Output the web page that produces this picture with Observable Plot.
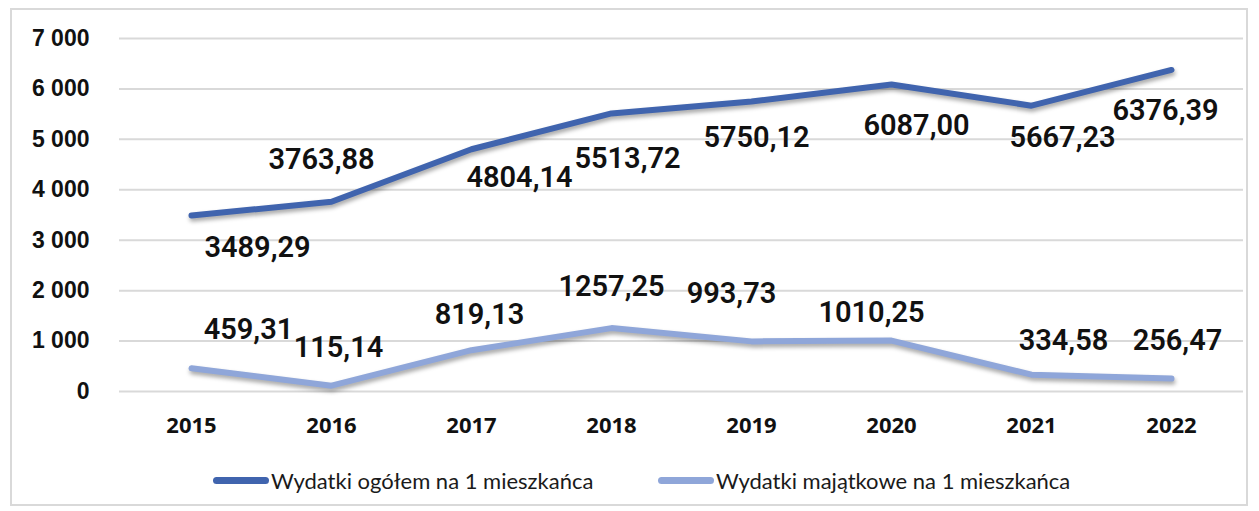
<!DOCTYPE html>
<html><head><meta charset="utf-8">
<script src="https://cdn.jsdelivr.net/npm/d3@7"></script>
<script src="https://cdn.jsdelivr.net/npm/@observablehq/plot@0.6"></script>
<style>
body{margin:0;background:#fff;width:1259px;height:511px;position:relative;overflow:hidden;}
#frame{position:absolute;left:10px;top:8px;width:1238px;height:498px;border:2px solid #d9d9d9;box-sizing:border-box;pointer-events:none;}
#chart{position:absolute;left:0;top:0;}
#legend{position:absolute;left:0;top:467px;width:1259px;font-family:Lato,"Open Sans",sans-serif;font-size:22px;color:#1a1a1a;}
.item{position:absolute;display:flex;align-items:center;}
.sw{width:56px;height:7px;border-radius:4px;margin-right:2px;}
svg g[aria-label="line"] path{filter:drop-shadow(1px 3px 2px rgba(0,0,0,0.35));}
</style></head>
<body>
<div id="chart"></div>
<div id="frame"></div>
<div id="legend"></div>
<script>
const years = [2015, 2016, 2017, 2018, 2019, 2020, 2021, 2022];
const seriesNames = ["Wydatki ogółem na 1 mieszkańca", "Wydatki majątkowe na 1 mieszkańca"];
const totalValues = [3489.29, 3763.88, 4804.14, 5513.72, 5750.12, 6087.00, 5667.23, 6376.39];
const capitalValues = [459.31, 115.14, 819.13, 1257.25, 993.73, 1010.25, 334.58, 256.47];
const yTicks = [0, 1000, 2000, 3000, 4000, 5000, 6000, 7000];
const colors = ["#4064ae", "#8fa6d9"];
// label offsets (layout only, px)
const totalLabelOffsets = [[66,32],[-10,-42],[48,28],[16,45],[5,36],[25,41],[31,32],[-6,41]];
const capitalLabelOffsets = [[57,-39],[7,-38],[8,-35],[0,-41],[-20,-48],[-20,-28],[32,-34],[6,-38]];

const rows = [];
years.forEach((y,i)=>{
  rows.push({year:String(y), value:totalValues[i], series:seriesNames[0], off:totalLabelOffsets[i]});
  rows.push({year:String(y), value:capitalValues[i], series:seriesNames[1], off:capitalLabelOffsets[i]});
});
const fmtTick = d => d3.format(",")(d).replace(/,/g, " ");
const fmtLabel = v => v.toFixed(2).replace(".", ",");

const labelMarks = rows.map(r => Plot.text([r], {
  x:"year", y:"value", text: d => fmtLabel(d.value),
  dx: r.off[0], dy: r.off[1],
  fontSize: 29, fontWeight: 600, fill: "#111",
  fontFamily: "Roboto, sans-serif"
}));

const plot = Plot.plot({
  width: 1259, height: 450,
  marginLeft: 119, marginRight: 16, marginTop: 38, marginBottom: 59,
  style: {fontFamily: "Liberation Sans, Arial, sans-serif", background: "transparent"},
  x: {type: "point", domain: years.map(String), padding: 0.5, label: null},
  y: {domain: [0, 7000], label: null},
  color: {domain: seriesNames, range: colors},
  marks: [
    Plot.gridY(yTicks, {stroke: "#d9d9d9", strokeOpacity: 1, strokeWidth: 2}),
    Plot.axisY(yTicks, {tickSize: 0, tickPadding: 30, tickFormat: fmtTick, fontSize: 23, fontWeight: "bold", fill: "#111", label: null}),
    Plot.axisX({tickSize: 0, tickPadding: 26, fontSize: 22, fontWeight: "bold", fill: "#111", label: null, fontFamily: "Open Sans, sans-serif"}),
    Plot.line(rows, {x: "year", y: "value", z: "series", stroke: "series", strokeWidth: 6, strokeLinecap: "round", strokeLinejoin: "miter"}),
    ...labelMarks
  ]
});
document.getElementById("chart").appendChild(plot);

const legend = document.getElementById("legend");
const legendX = [213, 658];
seriesNames.forEach((n,i)=>{
  const it = document.createElement("div");
  it.className = "item";
  it.style.left = legendX[i] + "px";
  it.innerHTML = `<div class="sw" style="background:${colors[i]}"></div><span>${n}</span>`;
  legend.appendChild(it);
});
</script>
</body></html>
